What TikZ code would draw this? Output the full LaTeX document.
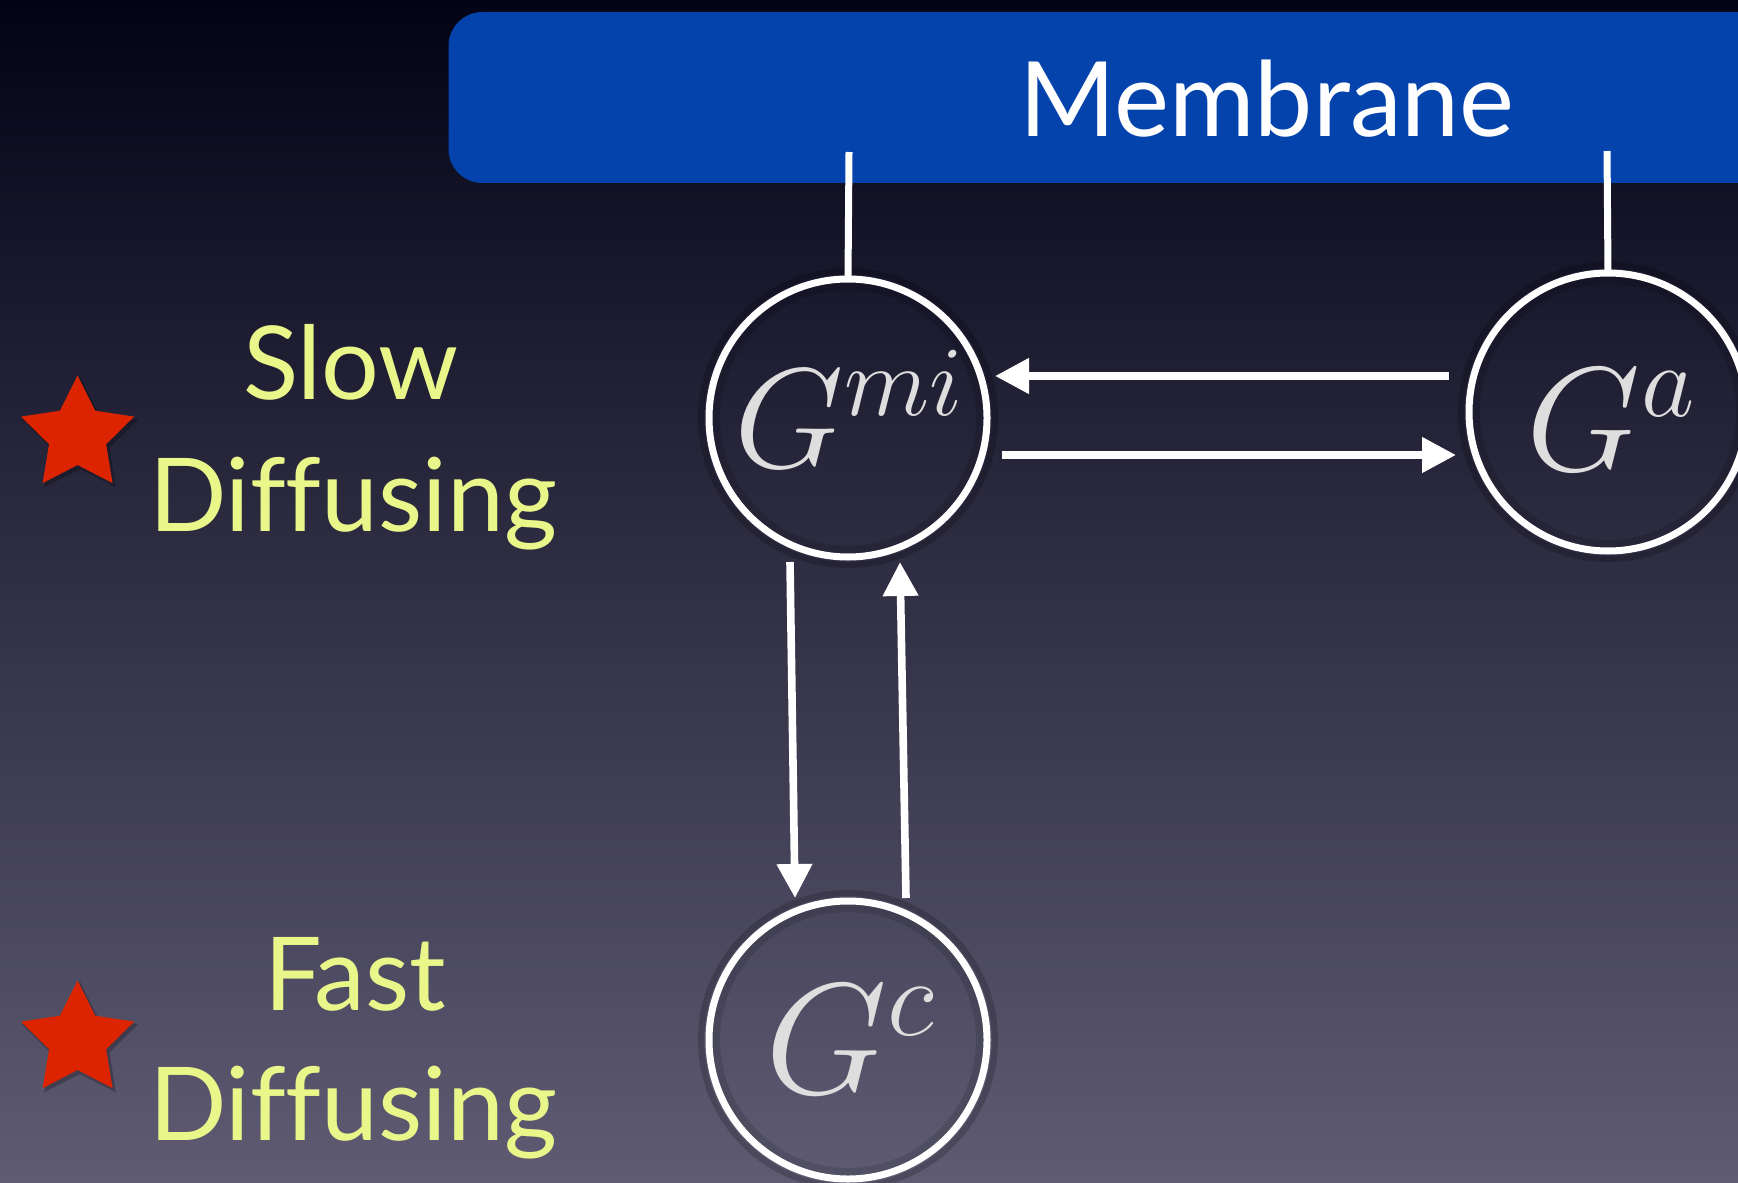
\documentclass[tikz,border=0pt]{standalone}
\usepackage{fix-cm}
\usepackage{fontspec}
\newfontfamily\labfont[Ligatures=NoCommon]{Lato}
\usetikzlibrary{arrows.meta,calc}
\definecolor{bgtop}{RGB}{3,3,22}
\definecolor{bgmid}{RGB}{34,34,60}
\definecolor{bgbot}{RGB}{94,91,114}
\definecolor{memblue}{RGB}{3,67,171}
\definecolor{labyellow}{RGB}{232,246,138}
\definecolor{starred}{RGB}{221,36,0}
\definecolor{glyphgray}{RGB}{222,222,222}
\tikzset{
  ring/.style={circle, draw=white, line width=3.5pt, minimum size=139pt, inner sep=0pt, outer sep=0pt},
  wline/.style={draw=white, line width=3.5pt},
  arr/.style={draw=white, line width=3.8pt, -{Triangle[length=17pt,width=17pt]}},
  lab/.style={text=labyellow, font=\labfont\fontsize{51}{60}\selectfont, anchor=base, inner sep=0pt},
  mathlab/.style={text=glyphgray, anchor=base, inner sep=0pt},
  membox/.style={fill=memblue, rounded corners=17pt, minimum width=676pt, minimum height=85.5pt, inner sep=0pt},
  starfill/.style={fill=starred},
  shadowring/.style={draw=black, line width=3pt, opacity=0.18},
}
\begin{document}
\begin{tikzpicture}[x=0.5pt,y=-0.5pt]
\useasboundingbox (0,0) rectangle (1738,1182);
\clip (0,0) rectangle (1738,1182);
\shade[top color=bgtop, middle color=bgmid, bottom color=bgbot] (0,0) rectangle (1738,1182);

% membrane
\node[membox] (mem) at (1124.5,97.5) {};
\node[text=white, font=\labfont\fontsize{52}{60}\selectfont, anchor=base, inner sep=0pt] (memlab) at (1267,137) {Membrane};

% circle shadows
\foreach \c in {(848,418),(1608,412),(848,1040)}{
  \draw[shadowring] \c circle (147);
  \draw[shadowring, line width=4pt, opacity=0.12] \c circle (132);
}
\node[ring] (gmi) at (848,418) {};
\node[ring] (ga) at (1608,412) {};
\node[ring] (gc) at (848,1040) {};

\node[mathlab, font=\fontsize{71}{78}\selectfont] (gmil) at (849,467) {$G^{mi}$};
\node[mathlab, font=\fontsize{74}{80}\selectfont] (gal) at (1611,470) {$G^{a}$};
\node[mathlab, font=\fontsize{79}{86}\selectfont] (gcl) at (850,1093) {$G^{c}$};

% membrane tethers
\coordinate (m1) at (849,152);
\coordinate (m2) at (1607,151);
\draw[wline] (gmi.north) -- (m1);
\draw[wline] (ga.north) -- (m2);

% arrows
\draw[arr] ($(ga)+(-159,-36)$) -- ($(gmi)+(147,-42)$);
\draw[arr] ($(gmi)+(154,37)$) -- ($(ga)+(-152,43)$);
\draw[arr] ($(gmi)+(-58,144)$) -- ($(gc)+(-53,-142)$);
\draw[arr] ($(gc)+(58,-142)$) -- ($(gmi)+(52,144)$);

% stars
\foreach \cy in {435,1040}{
  \fill[black, opacity=0.25] (80,\cy+3) +(-90:61) -- +(-54:31) -- +(-18:61) -- +(18:31) -- +(54:61) -- +(90:31) -- +(126:61) -- +(162:31) -- +(198:61) -- +(234:31) -- cycle;
  \fill[starfill] (77.6,\cy) +(-90:59.5) -- +(-54:30) -- +(-18:59.5) -- +(18:30) -- +(54:59.5) -- +(90:30) -- +(126:59.5) -- +(162:30) -- +(198:59.5) -- +(234:30) -- cycle;
}

% labels
\node[lab] (slow) at (351,399) {Slow};
\node[lab] (diff1) at (353,531) {Diffusing};
\node[lab] (fast) at (355,1010) {Fast};
\node[lab] (diff2) at (353,1140) {Diffusing};
\end{tikzpicture}
\end{document}
